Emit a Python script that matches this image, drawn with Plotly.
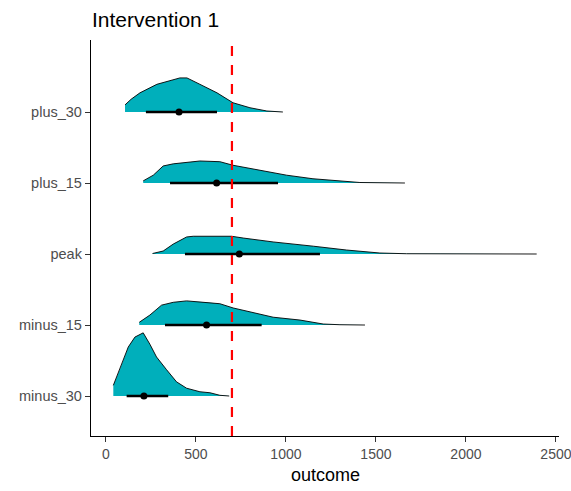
import plotly.graph_objects as go

# categories (bottom to top)
categories = ["minus_30", "minus_15", "peak", "plus_15", "plus_30"]

# density outlines: x (outcome) and slab height (in category units)
minus_30_x = [41, 78, 124, 161, 207, 244, 281, 337, 392, 448, 522, 578, 633, 685]
minus_30_h = [0.15, 0.38, 0.69, 0.83, 0.89, 0.73, 0.55, 0.37, 0.20, 0.11, 0.06, 0.046, 0.01, 0.0]

minus_15_x = [185, 244, 309, 374, 448, 559, 633, 707, 818, 929, 1078, 1207, 1300, 1439]
minus_15_h = [0.038, 0.14, 0.28, 0.32, 0.34, 0.32, 0.30, 0.24, 0.17, 0.11, 0.07, 0.014, 0.004, 0.0]

peak_x = [259, 318, 374, 448, 485, 596, 698, 763, 929, 1152, 1337, 1522, 1670, 1856, 2393]
peak_h = [0.007, 0.042, 0.14, 0.24, 0.25, 0.25, 0.25, 0.225, 0.17, 0.11, 0.056, 0.014, 0.004, 0.003, 0.0]

plus_15_x = [207, 263, 318, 374, 522, 633, 706, 856, 1004, 1150, 1282, 1411, 1661]
plus_15_h = [0.03, 0.11, 0.24, 0.27, 0.31, 0.30, 0.25, 0.18, 0.11, 0.06, 0.03, 0.007, 0.0]

plus_30_x = [106, 140, 189, 283, 411, 450, 522, 617, 706, 800, 894, 983]
plus_30_h = [0.10, 0.18, 0.27, 0.39, 0.48, 0.48, 0.39, 0.27, 0.13, 0.06, 0.014, 0.0]

# point (median) and interval
medians = [211, 559, 741, 615, 406]
lower = [115, 328, 439, 356, 222]
upper = [346, 865, 1189, 956, 617]

reference_value = 700

densities = [
    (minus_30_x, minus_30_h),
    (minus_15_x, minus_15_h),
    (peak_x, peak_h),
    (plus_15_x, plus_15_h),
    (plus_30_x, plus_30_h),
]

FILL = "#00AFBB"
fig = go.Figure()

for i, (xs, hs) in enumerate(densities):
    base = i + 1
    poly_x = [xs[0]] + list(xs) + [xs[-1], xs[0]]
    poly_y = [base] + [base + h for h in hs] + [base, base]
    fig.add_trace(go.Scatter(x=poly_x, y=poly_y, fill="toself", fillcolor=FILL,
                             mode="lines", line=dict(width=0), hoverinfo="skip",
                             showlegend=False))
    fig.add_trace(go.Scatter(x=list(xs), y=[base + h for h in hs], mode="lines",
                             line=dict(color="black", width=0.9),
                             hoverinfo="skip", showlegend=False))

for i in range(len(categories)):
    base = i + 1
    fig.add_trace(go.Scatter(x=[lower[i], upper[i]], y=[base, base], mode="lines",
                             line=dict(color="black", width=2.4), showlegend=False))
    fig.add_trace(go.Scatter(x=[medians[i]], y=[base], mode="markers",
                             marker=dict(color="black", size=7), showlegend=False))

fig.add_shape(type="line", x0=reference_value, x1=reference_value, y0=0, y1=1,
              xref="x", yref="paper", line=dict(color="#FF0000", width=2.2, dash="10px,9px"))

fig.add_annotation(text="outcome", x=0.5, xref="paper", y=-39 / 396, yref="paper",
                   xanchor="center", yanchor="middle", showarrow=False,
                   font=dict(size=18, color="black"))

fig.update_layout(
    width=571, height=491,
    margin=dict(l=91, r=12, t=40, b=55),
    paper_bgcolor="white", plot_bgcolor="white",
    font=dict(family="Liberation Sans, Arial, sans-serif"),
    title=dict(text="Intervention 1", x=92 / 571, xanchor="left", xref="container",
               y=1 - 27 / 491, yanchor="bottom", yref="container",
               font=dict(size=21, color="black")),
    xaxis=dict(range=[-83, 2517], tickvals=[0, 500, 1000, 1500, 2000, 2500],
               showgrid=False, zeroline=False, showline=True, linecolor="black",
               linewidth=1.4, ticks="outside", ticklen=5, tickcolor="#333333",
               ticklabeloverflow="allow", automargin=False,
               tickfont=dict(size=14, color="#4D4D4D")),
    yaxis=dict(range=[0.437, 6.014], tickvals=[1, 2, 3, 4, 5], ticktext=categories,
               showgrid=False, zeroline=False, showline=True, linecolor="black",
               linewidth=1.4, ticks="outside", ticklen=5, tickcolor="#333333",
               automargin=False,
               tickfont=dict(size=14.5, color="#4D4D4D")),
)

fig.write_html("out.html")
